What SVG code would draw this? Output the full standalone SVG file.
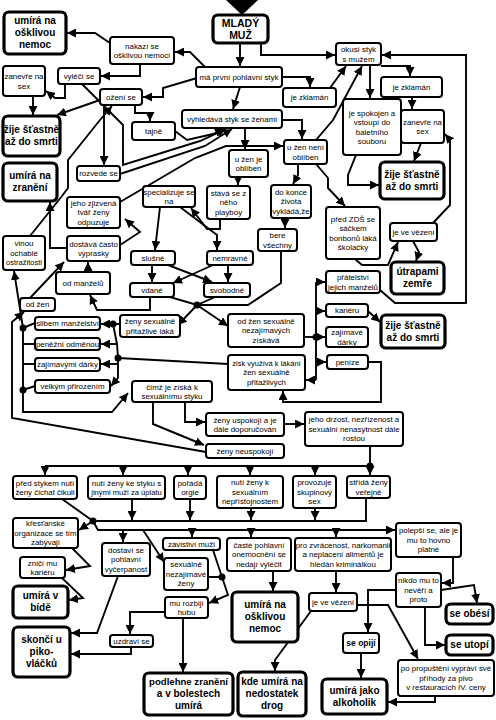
<svg xmlns="http://www.w3.org/2000/svg" width="496" height="720" viewBox="0 0 496 720">
<style>
.n rect{fill:#fff;stroke:#000;stroke-width:2;rx:3px}
.t rect{fill:#fff;stroke:#000;stroke-width:3.2;rx:5px}
text{font-family:"Liberation Sans",Arial,sans-serif;font-size:7.9px;text-anchor:middle;fill:#000}
.t text,.b text{font-weight:bold;font-size:10px}
#conn polyline{fill:none;stroke:#000;stroke-width:1.9;marker-end:url(#ah)}
#conn polyline.p{marker-end:none}
#conn circle{fill:#000}
</style>
<defs>
<marker id="ah" viewBox="0 0 10 10" refX="10" refY="5" markerWidth="9" markerHeight="9" markerUnits="userSpaceOnUse" orient="auto"><path d="M0,0L10,5L0,10z" fill="#000"/></marker>
</defs>
<rect width="496" height="720" fill="#fff"/>
<g id="conn">
<polygon points="226,0 258,0 242,15" fill="#000"/>
<polyline points="240,43 240,66"/>
<polyline points="261,43 261,55 335,55"/>
<polyline points="205,67 190,52 175,52"/>
<polyline points="110,43 95,33 67,33"/>
<polyline points="140,64 140,76 101,76"/>
<polyline points="65,84 65,98 55,98 46,91"/>
<polyline points="197,78 163,88 163,97 143,97"/>
<polyline points="282,77 310,77 310,87"/>
<polyline points="330,88 346,66"/>
<polyline points="316,140 333,120 362,66"/>
<polyline points="370,65 370,98"/>
<polyline points="381,66 410,66 410,76"/>
<polyline points="412,97 412,109"/>
<polyline points="421,143 414,161"/>
<polyline points="356,155 348,175 348,185 379,185"/>
<polyline points="433,223 450,205 450,140 445,134"/>
<polyline points="355,259 362,265 388,265 398,242"/>
<polyline points="413,241 419,252 416,261"/>
<polyline points="380,290 395,303 466,303 466,55 382,55"/>
<polyline points="240,87 233,109"/>
<polyline points="282,120 302,120 302,139"/>
<polyline points="245,128 245,149"/>
<polyline points="175,131 187,140 213,134 224,129"/>
<polyline points="82,84 123,125 123,165 200,141 226,129"/>
<polyline points="120,174 205,146 232,129"/>
<polyline points="135,105 135,113 150,113 150,121"/>
<polyline points="104,105 104,165"/>
<polyline points="100,100 57,115"/>
<polyline points="33,96 33,115"/>
<polyline points="120,202 195,158 226,146 283,146"/>
<polyline points="298,164 298,175 293,184"/>
<polyline points="316,164 328,178 328,188 345,206"/>
<polyline points="238,177 238,185"/>
<polyline points="220,219 220,229 207,229 191,208"/>
<polyline points="285,218 285,228"/>
<polyline points="160,207 155,250"/>
<polyline points="180,207 217,235 217,250"/>
<polyline points="152,265 152,282"/>
<polyline points="228,265 228,282"/>
<polyline points="168,265 212,282"/>
<polyline points="213,265 173,283"/>
<polyline points="150,297 150,310 97,310 90,295"/>
<polyline class="p" points="170,297 197,305 215,297"/>
<polyline class="p" points="281,251 281,283 248,305 197,305"/>
<polyline points="197,305 178,325"/>
<polyline points="197,305 228,326"/>
<polyline points="120,324 101,324"/>
<polyline points="113,324 117,344 118,358 118,378 111,386"/>
<polyline points="117,344 101,344"/>
<polyline points="118,364 101,364"/>
<polyline class="p" points="228,364 118,358"/>
<polyline class="p" points="35,323 23,328"/>
<polyline class="p" points="35,344 23,344"/>
<polyline class="p" points="35,364 23,364"/>
<polyline class="p" points="35,386 23,390"/>
<polyline points="23,328 23,412 112,412 128,393"/>
<polyline points="23,328 14,271"/>
<polyline points="206,452 12,418 12,322 24,312"/>
<polyline points="30,298 64,262"/>
<polyline points="88,272 88,262"/>
<polyline points="67,248 50,248 50,202"/>
<polyline points="117,247 140,232 125,219"/>
<polyline points="30,236 62,196 68,188 68,160 100,120 112,106"/>
<polyline points="185,402 185,422 205,422"/>
<polyline points="153,402 153,424 204,445"/>
<polyline points="284,424 304,424"/>
<polyline class="p" points="370,446 370,466 45,466"/>
<polyline points="45,466 45,475"/>
<polyline points="123,466 123,475"/>
<polyline points="188,466 188,475"/>
<polyline points="250,466 250,475"/>
<polyline points="315,466 315,475"/>
<polyline points="370,466 370,475"/>
<polyline class="p" points="62,499 93,521 366,521 366,498"/>
<polyline points="132,499 132,520"/>
<polyline points="190,499 190,520"/>
<polyline points="251,508 251,520"/>
<polyline points="315,508 315,520"/>
<polyline points="93,521 98,530 395,530"/>
<polyline points="123,530 123,542"/>
<polyline points="192,530 192,537"/>
<polyline points="251,530 251,537"/>
<polyline points="336,530 336,537"/>
<polyline points="143,530 164,562"/>
<polyline points="93,521 79,530"/>
<polyline points="72,548 90,566 66,570"/>
<polyline points="62,578 83,598 69,600"/>
<polyline points="118,576 97,633 71,633"/>
<polyline points="131,647 131,654 71,654"/>
<polyline class="p" points="213,550 222,577 208,577"/>
<polyline points="222,577 228,595 209,603"/>
<polyline points="165,612 130,612 130,634"/>
<polyline points="183,618 183,672"/>
<polyline points="273,571 273,591"/>
<polyline points="336,571 336,592"/>
<polyline points="453,557 453,583 442,583"/>
<polyline points="441,590 474,585 477,603"/>
<polyline points="425,607 425,645 445,645"/>
<polyline points="396,590 368,590 368,632"/>
<polyline points="357,605 388,605 418,659"/>
<polyline points="311,611 275,660 275,671"/>
<polyline points="361,653 361,678"/>
<polyline points="435,696 435,702 388,702"/>
<polyline points="368,362 381,362 381,402 283,402 283,391"/>
<polyline class="p" points="304,337 316,337"/>
<polyline class="p" points="316,282 316,380"/>
<polyline points="316,282 325,282"/>
<polyline points="316,311 325,311"/>
<polyline points="316,337 325,337"/>
<polyline points="316,362 326,362"/>
<polyline points="316,380 306,380"/>
<polyline points="368,311 380,322"/>
<circle cx="197" cy="305" r="3.5"/>
<circle cx="113" cy="324" r="3.5"/>
<circle cx="118" cy="358" r="3.5"/>
<circle cx="23" cy="328" r="3.5"/>
<circle cx="23" cy="390" r="3.5"/>
<circle cx="316" cy="337" r="3.5"/>
<circle cx="370" cy="466" r="3.5"/>
<circle cx="93" cy="521" r="3.5"/>
<circle cx="222" cy="577" r="3.5"/>
</g>
<g id="mlady" class="t"><rect x="213" y="15" width="55" height="28"/><text x="240.5" y="26.5" style="font-size:10.5px">MLADÝ</text><text x="240.5" y="38.5" style="font-size:10.5px">MUŽ</text></g>
<g id="umira1" class="t"><rect x="4" y="12" width="62" height="42"/><text x="35" y="24.3">umírá na</text><text x="35" y="36.3">ošklivou</text><text x="35" y="48.3">nemoc</text></g>
<g id="nakazi" class="n"><rect x="110" y="37" width="64" height="27"/><text x="142" y="48.5">nakazí se</text><text x="142" y="58">ošklivou nemocí</text></g>
<g id="zanevre1" class="n"><rect x="3" y="66" width="42" height="30"/><text x="24" y="79">zanevře na</text><text x="24" y="88.5">sex</text></g>
<g id="vyleci" class="n"><rect x="58" y="68" width="42" height="16"/><text x="79" y="78.8">vyléčí se</text></g>
<g id="ozeni" class="n"><rect x="100" y="89" width="42" height="16"/><text x="121" y="99.8">ožení se</text></g>
<g id="prvni" class="n"><rect x="196" y="67" width="86" height="20"/><text x="239" y="79.8">má první pohlavní styk</text></g>
<g id="okusi" class="n"><rect x="336" y="43" width="45" height="22"/><text x="358.5" y="52">okusí styk</text><text x="358.5" y="61.5">s mužem</text></g>
<g id="zklaman1" class="n"><rect x="283" y="88" width="53" height="19"/><text x="309.5" y="100.3">je zklamán</text></g>
<g id="zklaman2" class="n"><rect x="381" y="77" width="61" height="20"/><text x="411.5" y="89.8">je zklamán</text></g>
<g id="vyhledava" class="n"><rect x="182" y="110" width="100" height="18"/><text x="232" y="121.8">vyhledává styk se ženami</text></g>
<g id="tajne" class="n"><rect x="132" y="122" width="43" height="18"/><text x="153.5" y="133.8">tajně</text></g>
<g id="zije1" class="t"><rect x="3" y="116" width="57" height="40"/><text x="31.5" y="133.3">žije šťastně</text><text x="31.5" y="145.3">až do smrti</text></g>
<g id="rozvede" class="n"><rect x="77" y="166" width="43" height="15"/><text x="98.5" y="176.3">rozvede se</text></g>
<g id="zraneni" class="t"><rect x="3" y="163" width="54" height="38"/><text x="30" y="179.3">umírá na</text><text x="30" y="191.3">zranění</text></g>
<g id="oblibenA" class="n"><rect x="229" y="150" width="39" height="27"/><text x="248.5" y="161.5">u žen je</text><text x="248.5" y="171">oblíben</text></g>
<g id="oblibenB" class="n"><rect x="284" y="140" width="43" height="24"/><text x="305.5" y="150">u žen není</text><text x="305.5" y="159.5">oblíben</text></g>
<g id="spokojen" class="n"><rect x="343" y="99" width="58" height="56"/><text x="372" y="115.5">je spokojen a</text><text x="372" y="125">vstoupí do</text><text x="372" y="134.5">baletního</text><text x="372" y="144">souboru</text></g>
<g id="zanevre2" class="n"><rect x="401" y="110" width="43" height="33"/><text x="422.5" y="124.5">zanevře na</text><text x="422.5" y="134">sex</text></g>
<g id="zije2" class="t"><rect x="380" y="162" width="64" height="37"/><text x="412" y="177.8">žije šťastně</text><text x="412" y="189.8">až do smrti</text></g>
<g id="dokonce" class="n"><rect x="271" y="185" width="40" height="33"/><text x="291" y="194.8">do konce</text><text x="291" y="204.3">života</text><text x="291" y="213.8">vykládá,že</text></g>
<g id="zds" class="n"><rect x="326" y="207" width="54" height="52"/><text x="353" y="221.5">před ZDŠ se</text><text x="353" y="231">sáčkem</text><text x="353" y="240.5">bonbonů láká</text><text x="353" y="250">školačky</text></g>
<g id="vezeni1" class="n"><rect x="390" y="223" width="47" height="18"/><text x="413.5" y="234.8">je ve vězení</text></g>
<g id="specializuje" class="n"><rect x="143" y="186" width="52" height="21"/><text x="169" y="194.5">specializuje se</text><text x="169" y="204">na</text></g>
<g id="playboy" class="n"><rect x="207" y="186" width="43" height="33"/><text x="228.5" y="195.8">stává se z</text><text x="228.5" y="205.3">něho</text><text x="228.5" y="214.8">playboy</text></g>
<g id="zjizvena" class="n"><rect x="67" y="197" width="53" height="31"/><text x="93.5" y="205.8">jeho zjizvená</text><text x="93.5" y="215.3">tvář ženy</text><text x="93.5" y="224.8">odpuzuje</text></g>
<g id="bere" class="n"><rect x="258" y="229" width="39" height="22"/><text x="277.5" y="238">bere</text><text x="277.5" y="247.5">všechny</text></g>
<g id="vinou" class="n"><rect x="3" y="236" width="42" height="34"/><text x="24" y="246.3">vinou</text><text x="24" y="255.8">ochablé</text><text x="24" y="265.3" style="font-size:7.5px">ostražitosti</text></g>
<g id="dostava" class="n"><rect x="67" y="236" width="53" height="25"/><text x="93.5" y="246.5">dostává často</text><text x="93.5" y="256">výprasky</text></g>
<g id="slusne" class="n"><rect x="131" y="251" width="44" height="14"/><text x="153" y="260.8">slušné</text></g>
<g id="nemravne" class="n"><rect x="207" y="251" width="46" height="14"/><text x="230" y="260.8">nemravné</text></g>
<g id="odmanzelu" class="n"><rect x="56" y="272" width="54" height="22"/><text x="83" y="285.8">od manželů</text></g>
<g id="vdane" class="n"><rect x="130" y="283" width="44" height="14"/><text x="152" y="292.8">vdané</text></g>
<g id="svobodne" class="n"><rect x="204" y="283" width="46" height="14"/><text x="227" y="292.8">svobodné</text></g>
<g id="odzen" class="n"><rect x="20" y="298" width="35" height="13"/><text x="37.5" y="307.3">od žen</text></g>
<g id="pratelstvi" class="n"><rect x="326" y="271" width="54" height="22"/><text x="353" y="280">přátelství</text><text x="353" y="289.5">jejich manželů</text></g>
<g id="utrapami" class="t"><rect x="391" y="262" width="53" height="32"/><text x="417.5" y="275.3">útrapami</text><text x="417.5" y="287.3">zemře</text></g>
<g id="pritazlive" class="n"><rect x="120" y="315" width="60" height="22"/><text x="150" y="324">ženy sexuálně</text><text x="150" y="333.5">přitažlivé láká</text></g>
<g id="slibem" class="n"><rect x="35" y="317" width="65" height="13"/><text x="67.5" y="326.3">slibem manželství</text></g>
<g id="nezajimavych" class="n"><rect x="228" y="314" width="76" height="33"/><text x="266" y="323.8">od žen sexuálně</text><text x="266" y="333.3">nezajímavých</text><text x="266" y="342.8">získává</text></g>
<g id="kariera" class="n"><rect x="326" y="304" width="42" height="13"/><text x="347" y="313.3">kariéru</text></g>
<g id="zajimave" class="n"><rect x="326" y="327" width="42" height="20"/><text x="347" y="335">zajímavé</text><text x="347" y="344.5">dárky</text></g>
<g id="zije3" class="t"><rect x="381" y="315" width="64" height="33"/><text x="413" y="328.8">žije šťastně</text><text x="413" y="340.8">až do smrti</text></g>
<g id="penezni" class="n"><rect x="35" y="338" width="65" height="12"/><text x="67.5" y="346.8">peněžní odměnou</text></g>
<g id="zajimavymi" class="n"><rect x="35" y="358" width="65" height="13"/><text x="67.5" y="367.3">zajímavými dárky</text></g>
<g id="penize" class="n"><rect x="327" y="355" width="41" height="14"/><text x="347.5" y="364.8">peníze</text></g>
<g id="zisk" class="n"><rect x="228" y="355" width="77" height="35"/><text x="266.5" y="365.8" style="font-size:7.5px">zisk využívá k lákání</text><text x="266.5" y="375.3">žen sexuálně</text><text x="266.5" y="384.8">přitažlivých</text></g>
<g id="prirozenim" class="n"><rect x="35" y="380" width="75" height="13"/><text x="72.5" y="389.3">velkým přirozením</text></g>
<g id="cimz" class="n"><rect x="132" y="381" width="80" height="21"/><text x="172" y="389.5">čímž je získá k</text><text x="172" y="399">sexuálnímu styku</text></g>
<g id="uspokoji" class="n"><rect x="206" y="413" width="78" height="23"/><text x="245" y="422.5">ženy uspokojí a je</text><text x="245" y="432">dále doporučován</text></g>
<g id="drzost" class="n"><rect x="305" y="412" width="98" height="34"/><text x="354" y="422.3">jeho drzost, nezřízenost a</text><text x="354" y="431.8">sexuální nenasytnost dále</text><text x="354" y="441.3">rostou</text></g>
<g id="neuspokoji" class="n"><rect x="206" y="444" width="78" height="14"/><text x="245" y="453.8">ženy neuspokojí</text></g>
<g id="cikuli" class="n"><rect x="13" y="476" width="64" height="23"/><text x="45" y="485.5">před stykem nutí</text><text x="45" y="495">ženy čichat čikuli</text></g>
<g id="uplata" class="n"><rect x="88" y="476" width="77" height="23"/><text x="126.5" y="485.5">nutí ženy ke styku s</text><text x="126.5" y="495" style="font-size:7.6px">jinými muži za úplatu</text></g>
<g id="orgie" class="n"><rect x="174" y="476" width="32" height="23"/><text x="190" y="485.5">pořádá</text><text x="190" y="495">orgie</text></g>
<g id="neprist" class="n"><rect x="217" y="476" width="66" height="32"/><text x="250" y="485.3">nutí ženy k</text><text x="250" y="494.8">sexuálním</text><text x="250" y="504.3">nepřístojnostem</text></g>
<g id="skupinovy" class="n"><rect x="293" y="476" width="43" height="32"/><text x="314.5" y="485.3">provozuje</text><text x="314.5" y="494.8">skupinový</text><text x="314.5" y="504.3">sex</text></g>
<g id="strida" class="n"><rect x="347" y="476" width="43" height="22"/><text x="368.5" y="485">střídá ženy</text><text x="368.5" y="494.5">veřejně</text></g>
<g id="krestanske" class="n"><rect x="13" y="518" width="65" height="30"/><text x="45.5" y="526.3">křesťanské</text><text x="45.5" y="535.8">organizace se tím</text><text x="45.5" y="545.3">zabývají</text></g>
<g id="znici" class="n"><rect x="20" y="557" width="45" height="21"/><text x="42.5" y="565.5">zničí mu</text><text x="42.5" y="575">kariéru</text></g>
<g id="bida" class="t"><rect x="13" y="586" width="55" height="32"/><text x="40.5" y="599.3">umírá v</text><text x="40.5" y="611.3">bídě</text></g>
<g id="pikovlacku" class="t"><rect x="13" y="627" width="57" height="50"/><text x="41.5" y="643.3">skončí u</text><text x="41.5" y="655.3">piko-</text><text x="41.5" y="667.3">vláčků</text></g>
<g id="vycerpanost" class="n"><rect x="102" y="543" width="48" height="33"/><text x="126" y="552.8">dostaví se</text><text x="126" y="562.3">pohlavní</text><text x="126" y="571.8">vyčerpanost</text></g>
<g id="zavistivi" class="n"><rect x="163" y="538" width="57" height="12"/><text x="191.5" y="546.8">závistiví muži</text></g>
<g id="nezajimave" class="n"><rect x="164" y="558" width="44" height="32"/><text x="186" y="567.3">sexuálně</text><text x="186" y="576.8">nezajímavé</text><text x="186" y="586.3">ženy</text></g>
<g id="caste" class="n"><rect x="227" y="538" width="64" height="33"/><text x="259" y="547.8">časté pohlavní</text><text x="259" y="557.3">onemocnění se</text><text x="259" y="566.8">nedají vyléčit</text></g>
<g id="zvracenost" class="n"><rect x="295" y="538" width="96" height="33"/><text x="343" y="547.8">pro zvrácenost, narkomanii</text><text x="343" y="557.3">a neplacení alimentů je</text><text x="343" y="566.8">hledán kriminálkou</text></g>
<g id="polepsi" class="n"><rect x="396" y="523" width="65" height="34"/><text x="428.5" y="533.3">polepší se, ale je</text><text x="428.5" y="542.8">mu to hovno</text><text x="428.5" y="552.3">platné</text></g>
<g id="nikdo" class="n"><rect x="396" y="573" width="45" height="34"/><text x="418.5" y="583.3">nikdo mu to</text><text x="418.5" y="592.8">nevěří a</text><text x="418.5" y="602.3">proto</text></g>
<g id="rozbiji" class="n"><rect x="165" y="597" width="43" height="21"/><text x="186.5" y="605.5">mu rozbijí</text><text x="186.5" y="615">hubu</text></g>
<g id="uzdravi" class="n"><rect x="110" y="635" width="43" height="12"/><text x="131.5" y="643.8">uzdraví se</text></g>
<g id="nemoc2" class="t"><rect x="232" y="592" width="66" height="50"/><text x="265" y="608.3">umírá na</text><text x="265" y="620.3">ošklivou</text><text x="265" y="632.3">nemoc</text></g>
<g id="vezeni2" class="n"><rect x="309" y="593" width="48" height="18"/><text x="333" y="604.8">je ve vězení</text></g>
<g id="obesi" class="t"><rect x="446" y="604" width="47" height="20"/><text x="469.5" y="617.3">se obésí</text></g>
<g id="utopi" class="t"><rect x="446" y="635" width="47" height="20"/><text x="469.5" y="648.3">se utopí</text></g>
<g id="opiji" class="n b"><rect x="343" y="633" width="36" height="20"/><text x="361" y="646" style="font-size:8.5px">se opijí</text></g>
<g id="propusteni" class="n"><rect x="398" y="660" width="96" height="36"/><text x="446" y="671.3">po propuštění vypráví své</text><text x="446" y="680.8">příhody za pivo</text><text x="446" y="690.3">v restauracích IV. ceny</text></g>
<g id="podlehne" class="t"><rect x="144" y="673" width="89" height="42"/><text x="188.5" y="685.3" style="font-size:9.6px">podlehne zranění</text><text x="188.5" y="697.3">a v bolestech</text><text x="188.5" y="709.3">umírá</text></g>
<g id="drogy" class="t"><rect x="238" y="672" width="68" height="44"/><text x="272" y="685.3">kde umírá na</text><text x="272" y="697.3">nedostatek</text><text x="272" y="709.3">drog</text></g>
<g id="alkoholik" class="t"><rect x="322" y="679" width="65" height="35"/><text x="354.5" y="693.8">umírá jako</text><text x="354.5" y="705.8">alkoholik</text></g>
</svg>
